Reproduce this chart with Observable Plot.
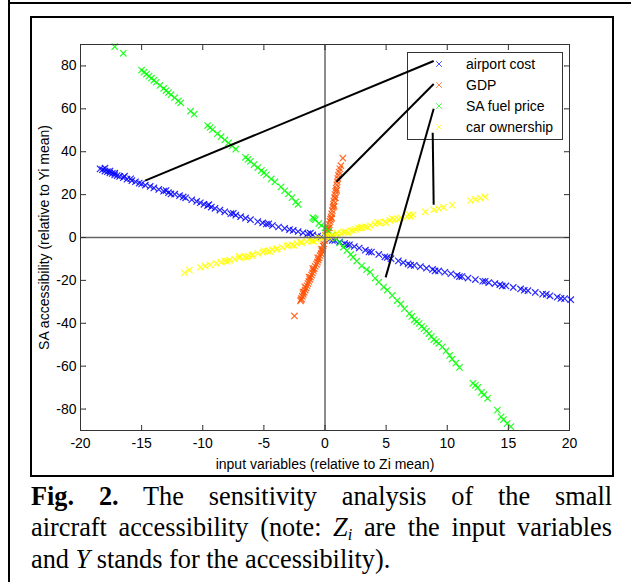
<!DOCTYPE html>
<html>
<head>
<meta charset="utf-8">
<script src="https://cdn.jsdelivr.net/npm/d3@7"></script>
<script src="https://cdn.jsdelivr.net/npm/@observablehq/plot@0.6"></script>
<style>
  html, body { margin: 0; padding: 0; background: #fff; }
  #page { position: relative; width: 631px; height: 582px; overflow: hidden; background: #fff; }
  .line { position: absolute; background: #000; }
  #inner { position: absolute; left: 30px; top: 16px; width: 580px; height: 457px; border: 2px solid #000; box-sizing: content-box; }
  #legend { position: absolute; left: 407px; top: 52px; width: 154px; height: 86px; border: 1px solid #333; background: #fff; font-family: "Liberation Sans", Arial, sans-serif; font-size: 14px; z-index: 1; }
  #legend .row { position: absolute; left: 0; height: 16px; line-height: 16px; }
  #legend .lbl { position: absolute; left: 58px; white-space: nowrap; }
  #legend svg { position: absolute; left: 27px; top: 4px; }
  #chart { position: absolute; left: 0; top: 0; z-index: 2; }
  #cap { position: absolute; left: 31px; top: 480.5px; width: 581px; font-family: "Liberation Serif", "Times New Roman", serif; font-size: 26.3px; line-height: 31.5px; color: #000; }
  #cap .j2 { text-align: justify; text-align-last: justify; white-space: nowrap; }
  #cap sub { font-size: 0.62em; vertical-align: -0.22em; line-height: 0; }
</style>
</head>
<body>
<div id="page">
  <div class="line" style="left:8px;top:0;width:2px;height:582px"></div>
  <div class="line" style="left:8px;top:2px;width:623px;height:2px"></div>
  <div id="inner"></div>
  <div id="legend"></div>
  <div id="chart"></div>
  <div id="cap">
    <div class="j2"><b>Fig. 2.</b> The sensitivity analysis of the small</div>
    <div class="j2">aircraft accessibility (note: <i>Z<sub>i</sub></i> are the input variables</div>
    <div>and <i>Y</i> stands for the accessibility).</div>
  </div>
</div>
<script>
// ---- data ----
const seriesNames = ["airport cost", "GDP", "SA fuel price", "car ownership"];
const seriesColors = ["#0000ff", "#ff5000", "#00ff00", "#ffff00"];

const airportX = [-18.4,-18.2,-18.0,-17.8,-17.6,-17.4,-17.2,-17.0,-16.8,-16.5,-16.2,-15.8,-15.5,-15.2,-15.0,-14.7,-14.3,-14.0,-13.6,-13.2,-12.8,-12.3,-11.9,-11.6,-11.4,-10.9,-10.5,-10.2,-9.9,-9.6,-9.3,-9.0,-8.6,-8.2,-7.7,-7.3,-6.9,-6.5,-6.1,-5.5,-5.1,-4.8,-4.3,-3.8,-3.3,-2.9,-2.6,-2.2,-1.8,-1.4,-1.0,-0.6,-0.3,0.1,0.4,0.8,1.2,1.6,2.0,2.4,2.8,3.3,3.8,4.4,4.9,5.4,6.0,6.4,6.8,7.3,7.8,8.3,8.8,9.3,9.8,10.3,10.8,11.2,11.7,12.3,12.9,13.4,13.9,14.3,14.8,15.4,16.0,16.6,17.2,17.8,18.4,19.0,19.6,20.1,
  -18.0,-17.6,-17.2,-16.4,-15.9,-13.0,-12.6,-9.5,-7.5,-4.6,-1.2,0.6,1.8,3.6,5.1,7.0,9.0,11.0,13.1,14.5,16.3,18.1,19.3];
const airportY = [32.0,31.6,31.0,30.7,30.1,29.9,29.2,28.9,28.5,27.9,27.2,26.5,26.0,25.4,25.0,24.4,23.8,23.1,22.4,21.6,20.9,20.2,19.5,18.9,18.5,17.6,16.8,16.2,15.5,14.9,14.2,13.6,12.8,12.0,11.1,10.4,9.7,9.0,8.3,7.4,6.8,6.3,5.6,4.9,4.3,3.7,3.3,2.8,2.2,1.7,1.2,0.7,0.3,-0.2,-0.7,-1.4,-2.1,-2.8,-3.4,-4.2,-4.9,-5.9,-6.8,-7.9,-9.0,-9.9,-10.9,-11.7,-12.3,-13.0,-13.6,-14.3,-14.9,-15.6,-16.2,-16.9,-17.6,-18.2,-18.9,-19.6,-20.4,-21.0,-21.5,-22.0,-22.6,-23.3,-24.0,-24.8,-25.6,-26.4,-27.2,-27.8,-28.5,-29.0,
  32.3,31.0,30.0,28.6,27.4,21.9,20.3,15.3,11.3,6.4,2.0,-1.3,-3.4,-6.7,-9.3,-12.9,-15.6,-18.2,-20.4,-22.6,-24.6,-26.5,-28.4];

const gdpX = [-2.5,-2.0,-1.95,-1.92,-1.85,-1.8,-1.78,-1.7,-1.65,-1.62,-1.55,-1.47,-1.4,-1.32,-1.3,-1.25,-1.18,-1.1,-1.02,-1.0,-0.95,-0.88,-0.8,-0.7,-0.62,-0.6,-0.55,-0.48,-0.4,-0.32,-0.3,-0.25,-0.2,-0.15,-0.1,-0.05,
  0.05,0.1,0.2,0.25,0.35,0.35,0.4,0.45,0.5,0.55,0.55,0.6,0.65,0.7,0.72,0.75,0.78,0.82,0.85,0.87,0.92,0.95,0.97,1.0,1.05,1.1,1.15,1.22,1.3,1.46];
const gdpY = [-36.6,-29.5,-29.0,-28.5,-27.5,-25.5,-26.5,-25.5,-23.0,-24.5,-23.5,-22.5,-21.5,-20.5,-18.5,-19.5,-18.5,-17.5,-16.5,-14.5,-15.5,-14.5,-13.5,-12.5,-11.5,-9.5,-10.5,-9.5,-8.5,-7.5,-5.5,-6.5,-5.5,-4.0,-3.0,-1.5,
  1.0,2.0,3.5,4.5,4.5,6.0,7.5,8.5,9.5,9.0,11.0,12.5,14.0,15.5,17.0,14.5,18.5,20.0,18.5,21.5,23.0,22.0,24.5,26.0,27.5,29.0,30.5,32.0,33.5,37.0];

const fuelX = [-17.2,-16.5,-15.0,-14.8,-14.6,-14.4,-14.2,-14.0,-13.8,-13.5,-13.2,-13.0,-12.8,-12.6,-12.3,-12.0,-11.8,-11.0,-10.7,-9.6,-9.4,-9.2,-8.8,-8.5,-8.2,-7.9,-7.6,-7.3,-6.5,-6.3,-6.1,-5.8,-5.5,-5.2,-5.0,-4.8,-4.4,-4.1,-3.6,-3.3,-3.0,-2.7,-2.4,-2.2,-1.0,-0.9,-0.8,-0.5,-0.3,
  0.0,0.3,0.6,0.9,1.2,1.5,1.8,2.1,2.3,2.6,3.0,3.4,3.7,4.1,4.4,4.8,5.1,5.5,5.9,6.2,6.5,6.9,7.1,7.3,7.5,7.7,7.9,8.1,8.3,8.5,8.7,8.9,9.1,9.3,9.6,9.9,10.2,10.4,10.7,11.0,12.1,12.3,12.5,12.8,13.0,13.3,14.1,14.4,14.6,14.9,15.2];
const fuelY = [89.0,85.9,78.1,77.1,76.2,75.2,74.3,73.3,72.4,70.9,69.5,68.5,67.6,66.6,65.2,63.7,62.8,58.9,57.5,52.2,51.3,50.3,48.4,47.0,45.5,44.1,42.7,41.2,37.4,36.4,35.5,34.0,32.6,31.2,30.2,29.2,27.3,25.9,23.6,21.8,20.3,18.6,16.6,15.5,9.3,8.8,8.3,6.6,5.6,
  4.5,3.0,1.2,-0.5,-2.5,-4.5,-6.0,-7.9,-9.2,-11.0,-13.2,-15.0,-16.1,-19.0,-20.8,-23.1,-24.5,-27.0,-29.4,-31.0,-33.2,-35.5,-36.8,-38.4,-39.2,-40.1,-41.5,-42.5,-43.6,-44.8,-46.2,-47.6,-48.5,-49.4,-51.0,-52.9,-55.0,-56.7,-58.6,-60.6,-68.0,-68.9,-69.9,-72.2,-73.3,-75.0,-80.5,-83.6,-84.9,-86.7,-88.2];

const carX = [-11.5,-11.1,-10.2,-9.8,-9.4,-8.9,-8.5,-8.2,-7.8,-7.4,-7.0,-6.6,-6.3,-5.9,-5.5,-5.1,-4.7,-4.3,-3.9,-3.5,-3.1,-2.7,-2.3,-1.9,-1.5,-1.1,-0.7,-0.3,0.1,0.5,0.9,1.3,1.7,2.1,2.5,2.9,3.3,3.7,4.1,4.5,4.9,5.3,5.7,6.2,6.7,7.2,8.2,8.9,9.3,9.7,10.4,11.9,12.3,12.7,13.1,
  -2.0,-1.0,-0.5,0.3,0.7,1.5,2.3,3.0,-4.0,-6.0,-8.0,
  -7.0,-6.4,-5.0,-4.5,-3.0,-2.5,-1.3,-0.9,0.0,0.4,1.0,1.9,2.7,3.5,4.3,5.0,5.5,6.0,6.9,7.0];
const carY = [-16.5,-15.2,-13.9,-13.3,-12.8,-12.1,-11.5,-11.0,-10.6,-10.1,-9.5,-9.0,-8.6,-8.0,-7.4,-6.9,-6.3,-5.7,-5.2,-4.6,-4.0,-3.4,-2.9,-2.4,-1.9,-1.4,-0.9,-0.4,0.2,0.8,1.4,2.0,2.6,3.2,3.8,4.4,5.0,5.6,6.2,6.8,7.4,8.0,8.5,9.2,9.9,10.6,12.0,12.9,13.5,14.1,15.1,17.2,17.8,18.4,18.9,
  -2.2,-1.6,-0.3,0.7,0.8,2.5,3.2,4.8,-5.6,-8.4,-11.1,
  -8.8,-9.3,-6.2,-6.6,-3.5,-3.8,-1.0,-1.8,0.6,-0.2,2.0,2.3,4.5,4.7,7.0,6.8,8.8,8.5,10.6,9.7];

// callout lines: legend entry -> point on the series
const calloutX1 = [8.89, 8.89, 8.89, 8.81];
const calloutY1 = [82.3, 71.6, 60.0, 48.8];
const calloutX2 = [-14.71, 0.94, 4.96, 8.89];
const calloutY2 = [26.5, 26.0, -18.6, 15.3];

const xTicks = [-20, -15, -10, -5, 0, 5, 10, 15, 20];
const yTicks = [-80, -60, -40, -20, 0, 20, 40, 60, 80];
const xLabel = "input variables (relative to Zi mean)";
const yLabel = "SA accessibility (relative to Yi mean)";

// ---- build tables ----
const seriesXs = [airportX, gdpX, fuelX, carX];
const seriesYs = [airportY, gdpY, fuelY, carY];
const tables = seriesXs.map((xs, i) => xs.map((x, j) => ({x, y: seriesYs[i][j], s: seriesNames[i]})));
const callouts = calloutX1.map((x1, i) => ({x1, y1: calloutY1[i], x2: calloutX2[i], y2: calloutY2[i]}));

const tickStroke = "#333";
const tickOpts = {length: 5, anchor: "start", r: 0, stroke: tickStroke, strokeWidth: 1};
const fmt = d => String(d);

const chart = Plot.plot({
  width: 631,
  height: 478,
  marginLeft: 80,
  marginRight: 62,
  marginTop: 44,
  marginBottom: 48,
  x: {domain: [-20, 20]},
  y: {domain: [-90, 90]},
  style: {background: "transparent", fontFamily: "'Liberation Sans', Arial, sans-serif", fontSize: "14px", color: "#000", overflow: "visible"},
  marks: [
    ...tables.map((t, i) => Plot.dot(t, {x: "x", y: "y", symbol: "times", r: 3, stroke: seriesColors[i], strokeWidth: 1.2, strokeOpacity: 0.85})),
    Plot.ruleX([0], {stroke: "#666", strokeWidth: 1.5}),
    Plot.ruleY([0], {stroke: "#666", strokeWidth: 1.5}),
    Plot.frame({stroke: tickStroke}),
    Plot.link(callouts, {x1: "x1", y1: "y1", x2: "x2", y2: "y2", stroke: "#000", strokeWidth: 2}),
    Plot.vector(xTicks, {x: d => d, frameAnchor: "bottom", rotate: 0, ...tickOpts}),
    Plot.vector(xTicks, {x: d => d, frameAnchor: "top", rotate: 180, ...tickOpts}),
    Plot.vector(yTicks, {y: d => d, frameAnchor: "left", rotate: 90, ...tickOpts}),
    Plot.vector(yTicks, {y: d => d, frameAnchor: "right", rotate: -90, ...tickOpts}),
    Plot.axisX(xTicks, {tickSize: 0, tickPadding: 8, label: null, fill: "#000", tickFormat: fmt}),
    Plot.axisY(yTicks, {tickSize: 0, tickPadding: 4, label: null, fill: "#000", tickFormat: fmt}),
    Plot.text([xLabel], {text: d => d, frameAnchor: "bottom", lineAnchor: "middle", textAnchor: "middle", dy: 34, fill: "#000", fontSize: 14}),
    Plot.text([yLabel], {text: d => d, frameAnchor: "left", lineAnchor: "middle", textAnchor: "middle", dx: -36, rotate: -90, fill: "#000", fontSize: 14})
  ]
});
document.getElementById("chart").appendChild(chart);

// ---- legend ----
const legend = document.getElementById("legend");
seriesNames.forEach((name, i) => {
  const row = document.createElement("div");
  row.className = "row";
  row.style.top = (3 + 21 * i) + "px";
  row.style.width = "154px";
  row.innerHTML = `<svg width="8" height="8" viewBox="0 0 8 8"><path d="M1.2,1.2L6.8,6.8M6.8,1.2L1.2,6.8" stroke="${seriesColors[i]}" stroke-opacity="0.7" stroke-width="1"/></svg><span class="lbl">${name}</span>`;
  legend.appendChild(row);
});
</script>
</body>
</html>
